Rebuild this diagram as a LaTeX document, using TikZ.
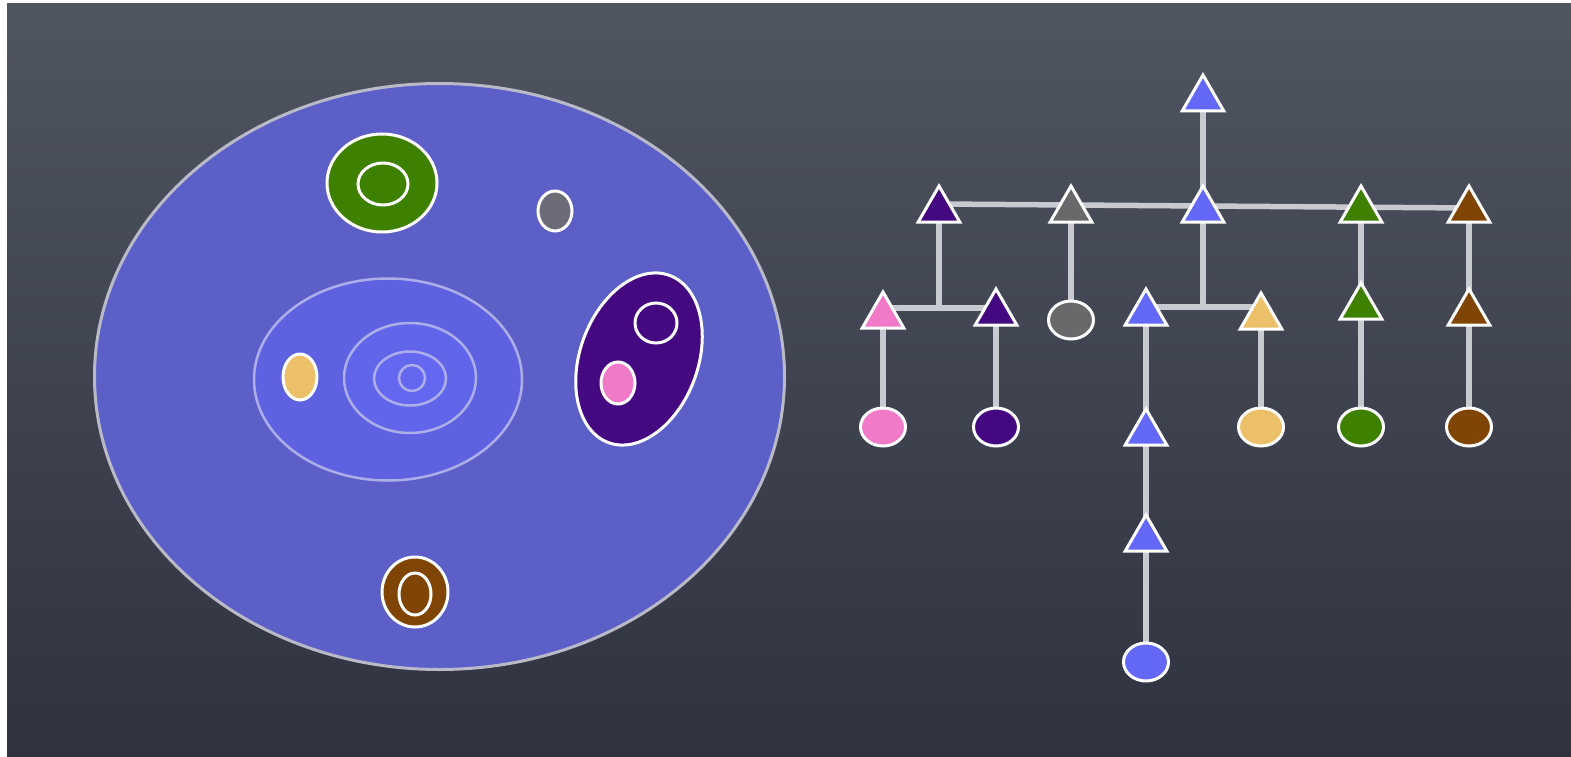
\documentclass[tikz,border=0pt]{standalone}
\usetikzlibrary{shapes.geometric}
\pgfdeclarelayer{bg}
\pgfdeclarelayer{links}
\pgfsetlayers{bg,links,main}
\definecolor{bgtop}{RGB}{80,85,98}
\definecolor{bgbot}{RGB}{47,50,63}
\definecolor{bigfill}{RGB}{92,95,200}
\definecolor{bigedge}{RGB}{185,185,200}
\definecolor{ringc}{RGB}{172,174,234}
\definecolor{ringA}{RGB}{94,98,224}
\definecolor{ringB}{RGB}{97,101,234}
\definecolor{ringC}{RGB}{100,104,240}
\definecolor{cblue}{RGB}{100,104,246}
\definecolor{cpurple}{RGB}{68,8,128}
\definecolor{cgray}{RGB}{105,105,108}
\definecolor{cgrayL}{RGB}{108,108,120}
\definecolor{cgreen}{RGB}{62,128,0}
\definecolor{cbrown}{RGB}{128,68,4}
\definecolor{cpink}{RGB}{240,122,200}
\definecolor{cyellow}{RGB}{236,192,104}
\definecolor{barc}{RGB}{200,202,208}
\tikzset{
  tri/.style={regular polygon, regular polygon sides=3, minimum size=48pt,
    inner sep=0pt, outer sep=0pt, draw=white, line width=3pt, fill=#1},
  leaf/.style={ellipse, minimum width=45pt, minimum height=38pt,
    inner sep=0pt, outer sep=0pt, draw=white, line width=3pt, fill=#1},
  link/.style={draw=barc, line width=5.5pt},
  blob/.style={draw=white, line width=3pt, fill=#1},
  ringline/.style={draw=ringc, line width=2.5pt, fill=#1}
}
\begin{document}
\begin{tikzpicture}[x=1pt,y=-1pt]
\useasboundingbox (0,0) rectangle (1571,757);
\begin{pgfonlayer}{bg}
\fill[white] (0,0) rectangle (1571,757);
\shade[top color=bgtop, bottom color=bgbot] (7,4) rectangle (1571,757);
\end{pgfonlayer}

% ---- left: nested sets ----
\draw[draw=bigedge, line width=3pt, fill=bigfill] (439.5,376.5) ellipse [x radius=345, y radius=293];
\draw[blob=cgreen] (382,183) ellipse [x radius=55, y radius=49];
\draw[blob=cgreen] (383,184) ellipse [x radius=25, y radius=21];
\draw[blob=cgrayL] (555,211) ellipse [x radius=17, y radius=20];
\draw[ringline=ringA] (388,379.5) ellipse [x radius=134, y radius=101];
\draw[ringline=ringB] (410,378) ellipse [x radius=66, y radius=55];
\draw[ringline=ringC] (410,378.5) ellipse [x radius=36, y radius=27];
\draw[ringline=ringC] (412,378) ellipse [x radius=13, y radius=13];
\draw[blob=cyellow] (300,377) ellipse [x radius=17, y radius=23];
\draw[blob=cpurple, rotate around={-20:(639,359)}] (639,359) ellipse [x radius=59, y radius=89];
\draw[blob=cpurple] (656,323) ellipse [x radius=21, y radius=20];
\draw[blob=cpink] (618,383) ellipse [x radius=17, y radius=21];
\draw[blob=cbrown] (415,592) ellipse [x radius=33, y radius=35];
\draw[blob=cbrown] (415,594) ellipse [x radius=16, y radius=21];

% ---- right: tree ----
\node[tri=cblue] (root) at (1203,99) {};
\node[tri=cpurple] (t2a) at (939,210) {};
\node[tri=cgray] (t2b) at (1071,210) {};
\node[tri=cblue] (t2c) at (1203,210) {};
\node[tri=cgreen] (t2d) at (1361,210) {};
\node[tri=cbrown] (t2e) at (1469,210) {};

\node[tri=cpink] (t3a) at (883,316) {};
\node[tri=cpurple] (t3b) at (996,313) {};
\node[leaf=cgray] (g3) at (1071,320) {};
\node[tri=cblue] (t3c) at (1146,313) {};
\node[tri=cyellow] (t3d) at (1261,317) {};
\node[tri=cgreen] (t3e) at (1361,307) {};
\node[tri=cbrown] (t3f) at (1469,313) {};

\node[leaf=cpink] (c4a) at (883,427) {};
\node[leaf=cpurple] (c4b) at (996,427) {};
\node[tri=cblue] (t4) at (1146,433) {};
\node[leaf=cyellow] (c4d) at (1261,427) {};
\node[leaf=cgreen] (c4e) at (1361,427) {};
\node[leaf=cbrown] (c4f) at (1469,427) {};

\node[tri=cblue] (t5) at (1146,539) {};
\node[leaf=cblue] (c6) at (1146,662) {};

\coordinate (ja) at (939,308);
\coordinate (jc) at (1203,307);

\begin{pgfonlayer}{links}
\draw[link] (root.center) -- (t2c.center);
\draw[link] ([yshift=6pt]t2a.center) -- ([yshift=2pt]t2e.center);
\draw[link] (t2a.center) -- (ja);
\draw[link] ([yshift=8pt]t3a.center) -- ([yshift=5pt]t3b.center);
\draw[link] (t2b.center) -- (g3.center);
\draw[link] (t2c.center) -- (jc);
\draw[link] ([yshift=6pt]t3c.center) -- ([yshift=10pt]t3d.center);
\draw[link] (t2d.center) -- (t3e.center);
\draw[link] (t3e.center) -- (c4e.center);
\draw[link] (t2e.center) -- (t3f.center);
\draw[link] (t3f.center) -- (c4f.center);
\draw[link] (t3a.center) -- (c4a.center);
\draw[link] (t3b.center) -- (c4b.center);
\draw[link] (t3c.center) -- (t4.center);
\draw[link] (t4.center) -- (t5.center);
\draw[link] (t5.center) -- (c6.center);
\draw[link] (t3d.center) -- (c4d.center);
\end{pgfonlayer}
\end{tikzpicture}
\end{document}
